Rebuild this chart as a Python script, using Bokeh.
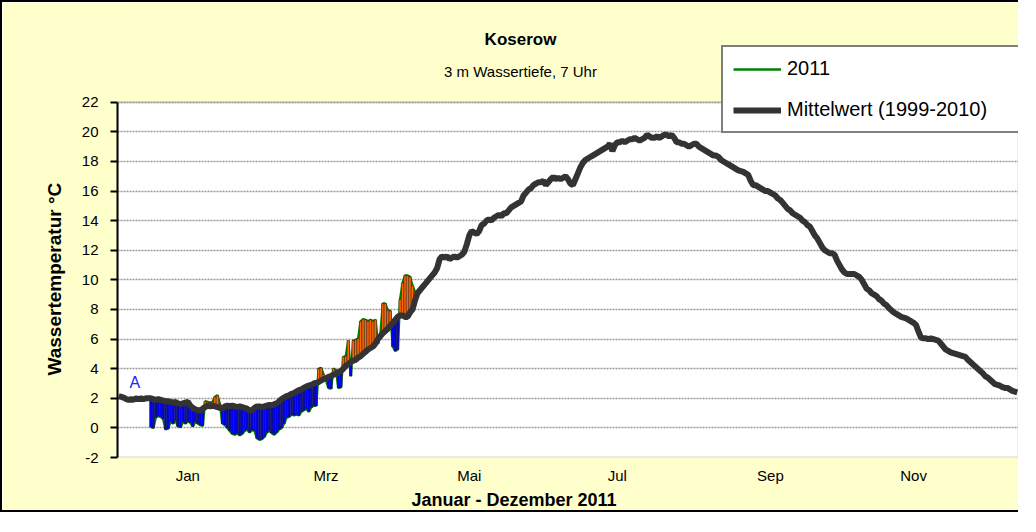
import numpy as np
from bokeh.plotting import figure
from bokeh.models import (Label, Legend, LegendItem, FixedTicker, Range1d, BoxAnnotation, Title)
from bokeh.embed import file_html
from bokeh.resources import INLINE

FONT = "Liberation Sans"

# Mittelwert (1999-2010), daily values per month
mean_jan = [2.15, 2.1, 2.05, 1.95, 1.9, 1.95, 1.9, 2.0, 1.95, 2.0, 1.95, 2.0, 2.0, 2.0, 1.95, 1.9,
            1.95, 1.9, 1.85, 1.8, 1.8, 1.75, 1.7, 1.75, 1.65, 1.6, 1.65, 1.7, 1.75, 1.5, 1.35]
mean_feb = [1.25, 1.2, 1.15, 1.3, 1.4, 1.5, 1.45, 1.5, 1.45, 1.4, 1.35, 1.3, 1.45, 1.5, 1.45, 1.5,
            1.45, 1.4, 1.45, 1.4, 1.35, 1.3, 1.15, 1.2, 1.35, 1.45, 1.45, 1.4]
mean_mar = [1.45, 1.5, 1.55, 1.5, 1.6, 1.65, 1.8, 1.95, 2.05, 2.15, 2.2, 2.3, 2.35, 2.45, 2.55, 2.6,
            2.7, 2.8, 2.85, 2.9, 3.0, 3.05, 3.1, 3.2, 3.3, 3.35, 3.45, 3.5, 3.6, 3.65, 3.75]
mean_apr = [3.85, 4.0, 4.2, 4.3, 4.45, 4.55, 4.6, 4.75, 4.85, 5.0, 5.15, 5.3, 5.4, 5.5, 5.7, 6.0,
            6.2, 6.4, 6.55, 6.7, 6.9, 7.1, 7.3, 7.5, 7.6, 7.6, 7.5, 7.5, 7.8, 8.0]
mean_may = [8.6, 9.1, 9.3, 9.5, 9.7, 9.9, 10.1, 10.3, 10.5, 10.8, 11.4, 11.6, 11.5, 11.6, 11.4, 11.5,
            11.6, 11.5, 11.6, 11.7, 11.9, 12.4, 13.0, 13.3, 13.2, 13.1, 13.3, 13.7, 13.8, 14.0, 14.1]
mean_jun = [14.0, 14.2, 14.3, 14.4, 14.3, 14.5, 14.5, 14.7, 14.9, 15.0, 15.1, 15.2, 15.3, 15.7, 15.9,
            16.1, 16.2, 16.4, 16.5, 16.6, 16.6, 16.7, 16.4, 16.6, 16.8, 16.95, 16.8, 16.9, 16.8, 16.9]
mean_jul = [17.0, 16.8, 16.5, 16.4, 16.8, 17.2, 17.6, 17.9, 18.1, 18.2, 18.3, 18.4, 18.5, 18.6, 18.7,
            18.8, 18.9, 19.0, 19.2, 18.7, 19.1, 19.3, 19.3, 19.4, 19.3, 19.4, 19.5, 19.5, 19.6, 19.5, 19.4]
mean_aug = [19.5, 19.6, 19.8, 19.7, 19.6, 19.6, 19.7, 19.6, 19.7, 19.8, 19.8, 19.7, 19.8, 19.6, 19.3,
            19.3, 19.2, 19.2, 19.1, 19.0, 19.1, 19.2, 19.2, 19.0, 18.9, 18.8, 18.7, 18.6, 18.5, 18.4, 18.4]
mean_sep = [18.3, 18.1, 18.0, 17.9, 17.8, 17.7, 17.6, 17.5, 17.4, 17.35, 17.3, 17.2, 17.1, 16.7, 16.4,
            16.4, 16.3, 16.2, 16.1, 16.0, 16.0, 15.9, 15.8, 15.7, 15.5, 15.4, 15.2, 15.0, 14.8, 14.7]
mean_oct = [14.5, 14.4, 14.3, 14.2, 14.0, 13.9, 13.7, 13.6, 13.3, 13.0, 12.8, 12.5, 12.2, 12.0, 11.9,
            11.8, 11.8, 11.7, 11.3, 11.0, 10.7, 10.5, 10.4, 10.4, 10.4, 10.4, 10.3, 10.2, 10.0, 9.7, 9.4]
mean_nov = [9.3, 9.1, 9.0, 8.9, 8.7, 8.6, 8.4, 8.3, 8.1, 7.95, 7.8, 7.7, 7.6, 7.5, 7.45, 7.4, 7.3,
            7.2, 7.1, 6.95, 6.5, 6.1, 6.05, 6.05, 6.0, 6.05, 6.0, 5.95, 5.9, 5.7]
mean_dec = [5.5, 5.3, 5.2, 5.1, 5.05, 5.0, 4.95, 4.9, 4.85, 4.8, 4.6, 4.45, 4.3, 4.15, 4.0, 3.85,
            3.7, 3.5, 3.4, 3.25, 3.1, 2.95, 2.9, 2.85, 2.75, 2.7, 2.7, 2.6, 2.5, 2.45, 2.4]

mean_values = (mean_jan + mean_feb + mean_mar + mean_apr + mean_may + mean_jun +
               mean_jul + mean_aug + mean_sep + mean_oct + mean_nov + mean_dec)
days = list(range(1, len(mean_values) + 1))

# 2011 daily values (from 14 January)
first_day_2011 = 14
values_2011 = [0.05, 0.0, 0.7, 0.8, 0.75, 0.6, -0.1, -0.05, 0.45, 0.3, 0.5, 0.1, 0.05, 0.4, 0.3,
               0.45, 0.35, 0.1, 0.4, 0.3, 0.2, 0.15, 1.8, 1.75, 1.7, 1.75, 2.1, 2.2, 1.6, 0.3, 0.2,
               0.0, -0.2, -0.4, -0.45, -0.35, -0.5, -0.4, -0.2, -0.1, -0.3, -0.15, -0.2, -0.7,
               -0.8, -0.75, -0.6, -0.3, -0.2, -0.35, -0.45, -0.3, -0.1, 0.0, 0.3, 0.7, 0.75, 0.9,
               0.85, 0.9, 0.85, 1.1, 1.2, 1.3, 1.1, 1.4, 1.5, 1.5, 4.0, 4.05, 3.6, 3.2, 2.7, 2.65,
               4.0, 3.9, 2.7, 2.75, 4.8, 4.85, 5.9, 3.5, 5.9, 5.95, 6.05, 7.2, 7.35, 7.3, 7.2,
               7.3, 7.2, 7.3, 5.7, 6.3, 8.4, 8.4, 7.95, 7.9, 5.5, 5.2, 5.3, 8.7, 9.8, 10.3, 10.3,
               10.2, 9.6, 9.2]
days_2011 = list(range(first_day_2011, first_day_2011 + len(values_2011)))

month_labels = ["Jan", "Mrz", "Mai", "Jul", "Sep", "Nov"]
month_label_days = [29, 85, 143, 203, 265, 323]
y_ticks = list(range(-2, 23, 2))
Y_MIN, Y_MAX = -2, 22

mean_at_2011 = [mean_values[d - 1] for d in days_2011]
bar_top = [max(v, m) for v, m in zip(values_2011, mean_at_2011)]
bar_bottom = [min(v, m) for v, m in zip(values_2011, mean_at_2011)]
bar_color = ["#0000FF" if v < m else "#FF6600" for v, m in zip(values_2011, mean_at_2011)]

# layout (pixels): plot area is 356 px high, frame extends 100 px above it for titles/legend
PLOT_H, TOP_EXTRA = 356, 100
y_top = Y_MAX + TOP_EXTRA * (Y_MAX - Y_MIN) / PLOT_H

p = figure(width=1018, height=512, output_backend="svg", toolbar_location=None,
           x_range=Range1d(0.5, 365.5), y_range=Range1d(Y_MIN, y_top),
           min_border_left=115, min_border_right=2, min_border_top=0, min_border_bottom=56)
p.title.text_font_size = "0px"
p.title.standoff = 0
p.styles = {"border-left": "2px solid black", "border-top": "2px solid black",
            "border-bottom": "2px solid black"}
p.border_fill_color = "#FFFFCC"
p.background_fill_color = "#FFFFCC"
p.outline_line_color = None

# white plot area with grey border
p.add_layout(BoxAnnotation(left=0.5, right=365.5, bottom=Y_MIN, top=Y_MAX, fill_color="white",
                           fill_alpha=1.0, line_color="#808080", line_width=2, level="image"))

# x axis
p.xaxis.ticker = FixedTicker(ticks=month_label_days)
p.xaxis.major_label_overrides = {d: m for d, m in zip(month_label_days, month_labels)}
p.xaxis.axis_line_color = None
p.xaxis.major_tick_line_color = None
p.xaxis.minor_tick_line_color = None
p.xaxis.major_tick_out = 0
p.xaxis.major_label_standoff = 9
p.xaxis.major_label_text_font = FONT
p.xaxis.major_label_text_font_size = "15px"
p.xaxis.major_label_text_color = "black"
p.xgrid.visible = False

# y axis
p.yaxis.ticker = FixedTicker(ticks=y_ticks)
p.yaxis.bounds = (Y_MIN, Y_MAX)
p.yaxis.major_label_overrides = {t: str(t) for t in y_ticks}
p.yaxis.axis_line_color = "black"
p.yaxis.axis_line_width = 2
p.yaxis.major_tick_line_color = "black"
p.yaxis.major_tick_line_width = 2
p.yaxis.major_tick_out = 7
p.yaxis.major_tick_in = 0
p.yaxis.minor_tick_line_color = None
p.yaxis.major_label_standoff = 12
p.yaxis.major_label_text_font = FONT
p.yaxis.major_label_text_font_size = "15px"
p.yaxis.major_label_text_color = "black"
p.ygrid.ticker = FixedTicker(ticks=y_ticks)
p.ygrid.grid_line_color = "#999999"
p.ygrid.grid_line_width = 1.5
p.ygrid.grid_line_dash = "2 1"

# axis titles
p.add_layout(Title(text="Wassertemperatur °C", align="left", offset=82, standoff=28,
                   text_font=FONT, text_font_size="19px", text_font_style="bold",
                   text_color="black"), "left")
p.add_layout(Title(text="Januar - Dezember 2011", align="left", offset=294, standoff=6,
                   vertical_align="top", text_font=FONT, text_font_size="18px",
                   text_font_style="bold", text_color="black"), "below")

r_2011 = p.line(days_2011, values_2011, line_color="#008000", line_width=2.5)
p.vbar(x=days_2011, width=1.0, top=bar_top, bottom=bar_bottom, fill_color=bar_color,
       line_color="#1a1a1a", line_width=0.5)
r_mean = p.line(days, mean_values, line_color="#333333", line_width=6)

legend = Legend(items=[LegendItem(label="2011", renderers=[r_2011]),
                       LegendItem(label="Mittelwert (1999-2010)", renderers=[r_mean])],
                location=(604, 324), border_line_color="black", border_line_width=2,
                background_fill_color="white", background_fill_alpha=1.0,
                label_text_font=FONT, label_text_font_size="20px", label_text_color="black",
                glyph_width=48, glyph_height=20, label_height=23, label_standoff=6,
                spacing=18, padding=10, margin=0, label_width=340)
p.add_layout(legend)

def lab(text, x, y, size, bold=False, color="black", units="screen"):
    p.add_layout(Label(x=x, y=y, x_units=units, y_units=units, text=text,
                       text_align="center", text_baseline="middle", text_font=FONT,
                       text_font_size=size, text_font_style="bold" if bold else "normal",
                       text_color=color))

lab("Koserow", 403, 418, "17px", bold=True)
lab("3 m Wassertiefe, 7 Uhr", 403, 386, "15px")
lab("A", 7.5, 3.1, "16px", color="#2222FF", units="data")

open("out.html", "w").write(file_html(p, INLINE))
